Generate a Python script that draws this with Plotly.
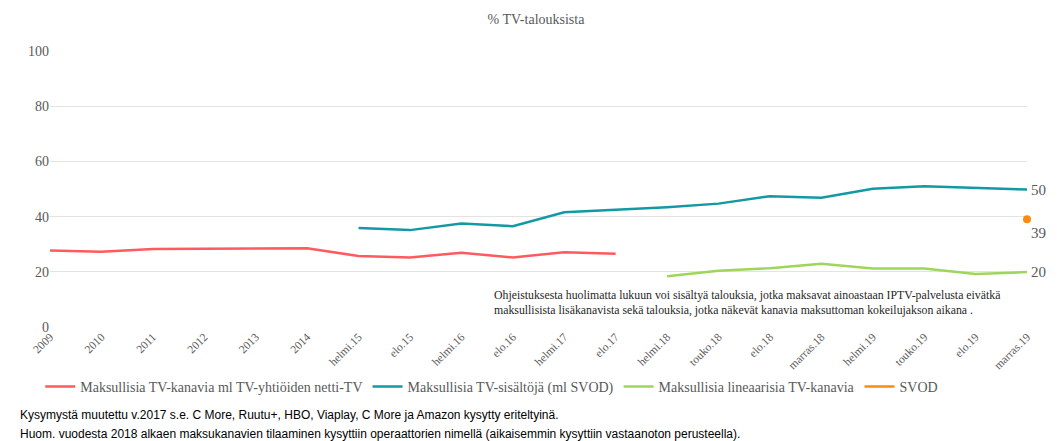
import plotly.graph_objects as go

categories = ["2009", "2010", "2011", "2012", "2013", "2014",
              "helmi.15", "elo.15", "helmi.16", "elo.16", "helmi.17", "elo.17",
              "helmi.18", "touko.18", "elo.18", "marras.18",
              "helmi.19", "touko.19", "elo.19", "marras.19"]

kanavat = [27.7, 27.3, 28.3, 28.3, 28.5, 28.5, 25.7, 25.2, 26.9, 25.2, 27.1, 26.5,
           None, None, None, None, None, None, None, None]
sisallot = [None, None, None, None, None, None, 35.9, 35.1, 37.5, 36.5, 41.6, 42.4,
            43.4, 44.7, 47.4, 46.8, 50.1, 51.0, 50.4, 49.8]
lineaariset = [None] * 12 + [18.4, 20.4, 21.3, 22.9, 21.2, 21.2, 19.2, 19.9]
svod = [None] * 19 + [39]

end_labels = {"50": 49.8, "39": 39, "20": 19.9}

RED = "#FF5A5F"
TEAL = "#1399A3"
GREEN = "#9FD55A"
ORANGE = "#FF8A12"
GREY = "#595959"
SERIF = "Liberation Serif"

fig = go.Figure()
fig.add_trace(go.Scatter(x=categories, y=kanavat, mode="lines",
                         name="Maksullisia TV-kanavia ml TV-yhtiöiden netti-TV",
                         line=dict(color=RED, width=2.5)))
fig.add_trace(go.Scatter(x=categories, y=sisallot, mode="lines",
                         name="Maksullisia TV-sisältöjä (ml SVOD)",
                         line=dict(color=TEAL, width=2.5)))
fig.add_trace(go.Scatter(x=categories, y=lineaariset, mode="lines",
                         name="Maksullisia lineaarisia TV-kanavia",
                         line=dict(color=GREEN, width=2.5)))
fig.add_trace(go.Scatter(x=categories, y=svod, mode="lines", name="SVOD",
                         line=dict(color=ORANGE, width=2.5)))
fig.add_trace(go.Scatter(x=categories, y=svod, mode="markers", showlegend=False,
                         cliponaxis=False, marker=dict(color=ORANGE, size=8)))

# value labels at the right end
fig.add_annotation(x=categories[-1], y=end_labels["50"], text="50", showarrow=False,
                   xanchor="left", xshift=2, font=dict(family=SERIF, size=15, color=GREY))
fig.add_annotation(x=categories[-1], y=end_labels["39"], text="39", showarrow=False,
                   xanchor="left", xshift=2, yshift=-14, font=dict(family=SERIF, size=15, color=GREY))
fig.add_annotation(x=categories[-1], y=end_labels["20"], text="20", showarrow=False,
                   xanchor="left", xshift=2, font=dict(family=SERIF, size=15, color=GREY))

fig.add_annotation(xref="paper", yref="paper", x=0.452, y=0.09, xanchor="left", yanchor="middle",
                   align="left", showarrow=False,
                   text="Ohjeistuksesta huolimatta lukuun voi sisältyä talouksia, jotka maksavat ainoastaan IPTV-palvelusta eivätkä<br>"
                        "maksullisista lisäkanavista sekä talouksia, jotka näkevät kanavia maksuttoman kokeilujakson aikana .",
                   font=dict(family=SERIF, size=11.8, color="#262626"))

fig.add_annotation(xref="paper", yref="paper", x=-0.033, y=-0.318, xanchor="left", yanchor="middle",
                   showarrow=False,
                   text="Kysymystä muutettu v.2017 s.e. C More, Ruutu+, HBO, Viaplay, C More ja Amazon kysytty eriteltyinä.",
                   font=dict(family="Liberation Sans", size=12, color="#000000"))
fig.add_annotation(xref="paper", yref="paper", x=-0.033, y=-0.389, xanchor="left", yanchor="middle",
                   showarrow=False,
                   text="Huom. vuodesta 2018 alkaen maksukanavien tilaaminen kysyttiin operaattorien nimellä (aikaisemmin kysyttiin vastaanoton perusteella).",
                   font=dict(family="Liberation Sans", size=12, color="#000000"))

# page body has an 8px margin, so the figure is 8px smaller and margins shifted
fig.update_layout(
    width=1056, height=433,
    margin=dict(l=42, r=37, t=43, b=114),
    plot_bgcolor="white", paper_bgcolor="white",
    title=dict(text="% TV-talouksista", x=0.5, xanchor="center", y=0.975, yanchor="middle",
               font=dict(family=SERIF, size=14, color=GREY)),
    xaxis=dict(showgrid=False, tickangle=-45, range=[0, 19],
               tickfont=dict(family=SERIF, size=11.5, color=GREY), showline=False, ticks=""),
    yaxis=dict(range=[0, 100], dtick=20, gridcolor="#E3E3E3", gridwidth=1, zeroline=False,
               tickfont=dict(family=SERIF, size=14, color=GREY), ticks=""),
    legend=dict(orientation="h", x=-0.01, y=-0.217, xanchor="left", yanchor="middle",
                font=dict(family=SERIF, size=14, color=GREY)),
    showlegend=True,
)

fig.write_html("out.html")
